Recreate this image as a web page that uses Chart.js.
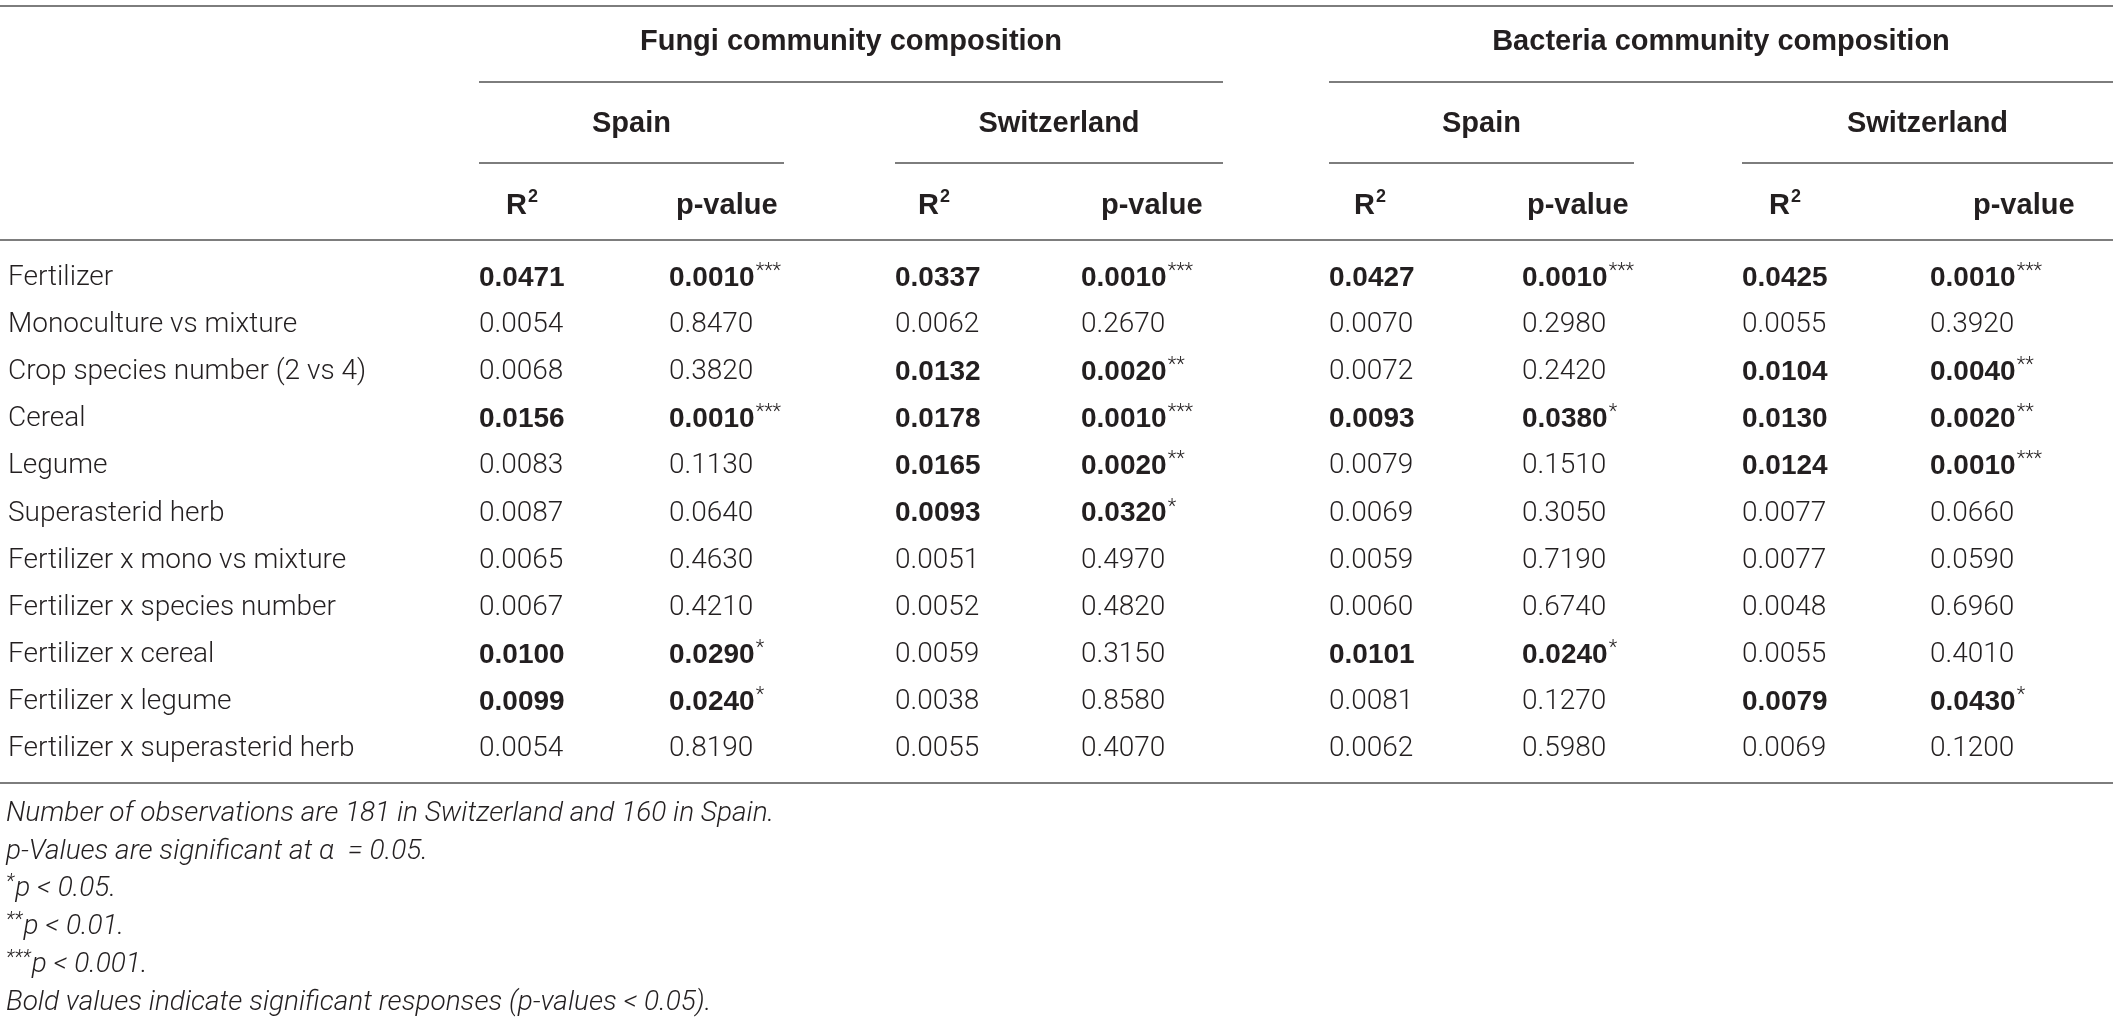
<!DOCTYPE html>
<html>
<head>
<meta charset="utf-8">
<script src="https://cdn.jsdelivr.net/npm/chart.js@4.4.1/dist/chart.umd.min.js"></script>
<style>
  html, body { margin: 0; background: #fff; }
  #table-container { width: 2119px; height: 1020px; position: relative; }
</style>
</head>
<body>
<div id="table-container"><canvas id="table"></canvas></div>
<script>
// rows of the table
let rowLabels = [
  'Fertilizer',
  'Monoculture vs mixture',
  'Crop species number (2 vs 4)',
  'Cereal',
  'Legume',
  'Superasterid herb',
  'Fertilizer x mono vs mixture',
  'Fertilizer x species number',
  'Fertilizer x cereal',
  'Fertilizer x legume',
  'Fertilizer x superasterid herb'
];

// R2 and p-values, one array per column
let fungiSpainR2 = [0.0471, 0.0054, 0.0068, 0.0156, 0.0083, 0.0087, 0.0065, 0.0067, 0.0100, 0.0099, 0.0054];
let fungiSpainP = [0.0010, 0.8470, 0.3820, 0.0010, 0.1130, 0.0640, 0.4630, 0.4210, 0.0290, 0.0240, 0.8190];
let fungiSwissR2 = [0.0337, 0.0062, 0.0132, 0.0178, 0.0165, 0.0093, 0.0051, 0.0052, 0.0059, 0.0038, 0.0055];
let fungiSwissP = [0.0010, 0.2670, 0.0020, 0.0010, 0.0020, 0.0320, 0.4970, 0.4820, 0.3150, 0.8580, 0.4070];
let bactSpainR2 = [0.0427, 0.0070, 0.0072, 0.0093, 0.0079, 0.0069, 0.0059, 0.0060, 0.0101, 0.0081, 0.0062];
let bactSpainP = [0.0010, 0.2980, 0.2420, 0.0380, 0.1510, 0.3050, 0.7190, 0.6740, 0.0240, 0.1270, 0.5980];
let bactSwissR2 = [0.0425, 0.0055, 0.0104, 0.0130, 0.0124, 0.0077, 0.0077, 0.0048, 0.0055, 0.0079, 0.0069];
let bactSwissP = [0.0010, 0.3920, 0.0040, 0.0020, 0.0010, 0.0660, 0.0590, 0.6960, 0.4010, 0.0430, 0.1200];

// header texts
let groupLabels = ['Fungi community composition', 'Bacteria community composition'];
let countryLabels = ['Spain', 'Switzerland', 'Spain', 'Switzerland'];
let columnLabels = ['R2', 'p-value', 'R2', 'p-value', 'R2', 'p-value', 'R2', 'p-value'];
let notes = [
  [['Number of observations are 181 in Switzerland and 160 in Spain.']],
  [['p-Values are significant at \u03b1  = 0.05.']],
  [['*', 1], ['p < 0.05.']],
  [['**', 1], ['p < 0.01.']],
  [['***', 1], ['p < 0.001.']],
  [['Bold values indicate significant responses (p-values < 0.05).']]
];

// layout (pixels on the x scale)
let colLeft = [479, 669, 895, 1081, 1329, 1522, 1742, 1930];
let headX = [506, 676, 918, 1101, 1354, 1527, 1769, 1973];
let spanRight = [784, 1223, 1634, 2113];
let rowTop = 254.5, rowStep = 47.1;
let hdr = { top: 6, group: 42, line1: 82, country: 124, line2: 163, col: 206, line3: 240, bottom: 783, note0: 814, noteStep: 37.7 };

let ink = '#231f20';
let rule = '#7d7d7d';
let lightFont = '300 28px Roboto';
let boldFont = 'bold 28px "Liberation Sans"';
let headFont = 'bold 29px "Liberation Sans"';

function stars(p) {
  if (p <= 0.001) return '***';
  if (p < 0.01) return '**';
  if (p < 0.05) return '*';
  return '';
}

let columns = [
  [fungiSpainR2, fungiSpainP, false],
  [fungiSpainP, fungiSpainP, true],
  [fungiSwissR2, fungiSwissP, false],
  [fungiSwissP, fungiSwissP, true],
  [bactSpainR2, bactSpainP, false],
  [bactSpainP, bactSpainP, true],
  [bactSwissR2, bactSwissP, false],
  [bactSwissP, bactSwissP, true]
];

let datasets = columns.map(function (col, c) {
  return {
    label: columnLabels[c],
    values: col[0],
    pvals: col[1],
    isP: col[2],
    data: col[0].map(function (v, i) { return { x: colLeft[c], y: rowLabels[i] }; }),
    pointRadius: 0,
    showLine: false
  };
});

function hline(ctx, x1, x2, y) {
  ctx.beginPath();
  ctx.moveTo(x1, y);
  ctx.lineTo(x2, y);
  ctx.stroke();
}

let tableText = {
  id: 'tableText',
  afterDraw(chart) {
    let ctx = chart.ctx;
    let xs = chart.scales.x;
    ctx.save();
    ctx.fillStyle = ink;
    ctx.textBaseline = 'middle';

    // cells
    chart.data.datasets.forEach(function (ds, d) {
      let meta = chart.getDatasetMeta(d);
      meta.data.forEach(function (pt, i) {
        let p = ds.pvals[i];
        let bold = p < 0.05;
        let txt = ds.values[i].toFixed(4);
        ctx.textAlign = 'left';
        ctx.font = bold ? boldFont : lightFont;
        ctx.fillText(txt, pt.x, pt.y);
        if (ds.isP) {
          let w = ctx.measureText(txt).width;
          ctx.font = '300 20px Roboto';
          ctx.fillText(stars(p), pt.x + w + 1, pt.y - 6);
        }
      });
    });

    // header texts
    ctx.font = headFont;
    ctx.textAlign = 'center';
    groupLabels.forEach(function (g, k) {
      let x1 = xs.getPixelForValue(colLeft[k * 4]);
      let x2 = xs.getPixelForValue(spanRight[k * 2 + 1]);
      ctx.fillText(g, (x1 + x2) / 2, hdr.group);
    });
    countryLabels.forEach(function (c, k) {
      let x1 = xs.getPixelForValue(colLeft[k * 2]);
      let x2 = xs.getPixelForValue(spanRight[k]);
      ctx.fillText(c, (x1 + x2) / 2, hdr.country);
    });
    ctx.textAlign = 'left';
    columnLabels.forEach(function (c, k) {
      let x = xs.getPixelForValue(headX[k]);
      ctx.font = headFont;
      if (c === 'R2') {
        ctx.fillText('R', x, hdr.col);
        let w = ctx.measureText('R').width;
        ctx.font = 'bold 18px "Liberation Sans"';
        ctx.fillText('2', x + w + 1, hdr.col - 9);
      } else {
        ctx.fillText(c, x, hdr.col);
      }
    });

    // notes
    notes.forEach(function (line, k) {
      let x = 6;
      let y = hdr.note0 + k * hdr.noteStep;
      line.forEach(function (part) {
        if (part[1]) {
          ctx.font = 'italic 300 20px Roboto';
          ctx.fillText(part[0], x, y - 6);
        } else {
          ctx.font = 'italic 300 28px Roboto';
          ctx.fillText(part[0], x, y);
        }
        x += ctx.measureText(part[0]).width + (part[1] ? 1 : 0);
      });
    });

    // rules
    ctx.strokeStyle = rule;
    ctx.lineWidth = 2;
    hline(ctx, 0, 2113, hdr.top);
    hline(ctx, 0, 2113, hdr.line3);
    hline(ctx, 0, 2113, hdr.bottom);
    hline(ctx, xs.getPixelForValue(colLeft[0]), xs.getPixelForValue(spanRight[1]), hdr.line1);
    hline(ctx, xs.getPixelForValue(colLeft[4]), xs.getPixelForValue(spanRight[3]), hdr.line1);
    for (let k = 0; k < 4; k++) {
      hline(ctx, xs.getPixelForValue(colLeft[k * 2]), xs.getPixelForValue(spanRight[k]), hdr.line2);
    }
    ctx.restore();
  }
};

let canvas = document.getElementById('table');
let ctx = canvas.getContext('2d');
let table = new Chart(ctx, {
  type: 'scatter',
  data: { labels: rowLabels, datasets: datasets },
  options: {
    responsive: true,
    maintainAspectRatio: false,
    animation: false,
    devicePixelRatio: 1,
    events: [],
    layout: {
      padding: { left: 8, right: 0, top: rowTop, bottom: 1020 - rowTop - rowStep * rowLabels.length }
    },
    plugins: { legend: { display: false }, tooltip: { enabled: false } },
    scales: {
      x: { type: 'linear', min: 479, max: 2119, display: false },
      y: {
        type: 'category',
        labels: rowLabels,
        offset: true,
        grid: { display: false },
        border: { display: false },
        ticks: {
          autoSkip: false,
          crossAlign: 'far',
          padding: 0,
          color: ink,
          font: { family: 'Roboto', weight: '300', size: 28 }
        },
        afterFit: function (scale) { scale.width = 479 - 8; }
      }
    }
  },
  plugins: [tableText]
});
</script>
</body>
</html>
